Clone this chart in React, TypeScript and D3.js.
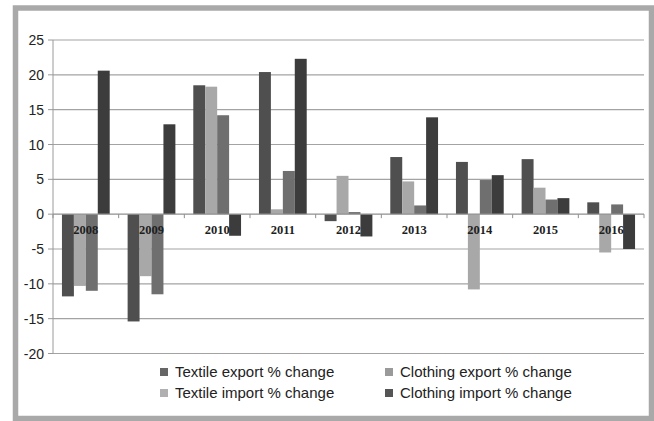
import React from "react";
import * as d3 from "d3";

const years = ["2008", "2009", "2010", "2011", "2012", "2013", "2014", "2015", "2016"];
const seriesNames = [
  "Textile export % change",
  "Textile import % change",
  "Clothing export % change",
  "Clothing import % change",
];
const textileExport = [-11.8, -15.4, 18.5, 20.4, -1.0, 8.2, 7.5, 7.9, 1.7];
const textileImport = [-10.3, -8.9, 18.3, 0.7, 5.5, 4.7, -10.8, 3.8, -5.5];
const clothingExport = [-11.0, -11.5, 14.2, 6.2, 0.3, 1.25, 4.9, 2.1, 1.4];
const clothingImport = [20.6, 12.9, -3.1, 22.3, -3.2, 13.9, 5.6, 2.3, -5.0];
const yTicks = [25, 20, 15, 10, 5, 0, -5, -10, -15, -20];

const seriesValues = [textileExport, textileImport, clothingExport, clothingImport];
const barColors = ["#4f4f4f", "#a8a8a8", "#6f6f6f", "#3c3c3c"];
const legendColors = ["#666666", "#b0b0b0", "#9a9a9a", "#555555"];

const W = 654;
const H = 421;
const plotLeft = 53;
const plotRight = 644;
const plotTop = 40;
const plotBottom = 353.5;

export default function App() {
  const x = d3.scaleBand<string>().domain(years).range([plotLeft, plotRight]).padding(0);
  const inner = d3
    .scaleBand<string>()
    .domain(seriesNames)
    .range([0, x.bandwidth()])
    .paddingInner(0)
    .paddingOuter(0.75);
  const y = d3.scaleLinear().domain([-20, 25]).range([plotBottom, plotTop]);
  const y0 = y(0);

  const legendItems = [
    { name: seriesNames[0], color: legendColors[0], lx: 160, ly: 372 },
    { name: seriesNames[2], color: legendColors[2], lx: 385, ly: 372 },
    { name: seriesNames[1], color: legendColors[1], lx: 160, ly: 393 },
    { name: seriesNames[3], color: legendColors[3], lx: 385, ly: 393 },
  ];

  return (
    <svg
      width={W}
      height={H}
      style={{ position: "absolute", left: 0, top: 0, background: "#fff" }}
    >
      {/* frame */}
      <rect x={15.5} y={8} width={636} height={410.5} fill="#fff" stroke="#a9a9a9" strokeWidth={5.5} />

      {/* gridlines and y ticks */}
      {yTicks.map((t) => (
        <g key={t}>
          {t !== 0 && (
            <line x1={plotLeft} x2={plotRight} y1={y(t)} y2={y(t)} stroke="#a3a3a3" strokeWidth={1.2} />
          )}
          <line x1={plotLeft - 5} x2={plotLeft} y1={y(t)} y2={y(t)} stroke="#9a9a9a" strokeWidth={1} />
          <text
            x={44}
            y={y(t)}
            dy="0.36em"
            textAnchor="end"
            fontFamily="'Liberation Sans', Arial, sans-serif"
            fontSize={14}
            fill="#222"
          >
            {t}
          </text>
        </g>
      ))}
      <line x1={plotLeft} x2={plotLeft} y1={plotTop} y2={plotBottom} stroke="#9a9a9a" strokeWidth={1} />

      {/* bars */}
      {years.map((yr, i) => (
        <g key={yr}>
          {seriesValues.map((vals, s) => {
            const v = vals[i];
            const bx = (x(yr) as number) + (inner(seriesNames[s]) as number);
            return (
              <rect
                key={s}
                x={bx}
                y={Math.min(y(v), y0)}
                width={inner.bandwidth()}
                height={Math.abs(y(v) - y0)}
                fill={barColors[s]}
              />
            );
          })}
        </g>
      ))}

      {/* zero axis with category ticks */}
      <line x1={plotLeft} x2={plotRight} y1={y0} y2={y0} stroke="#8f8f8f" strokeWidth={1.2} />
      {years.concat(["end"]).map((yr, i) => {
        const tx = plotLeft + i * x.step();
        return <line key={yr} x1={tx} x2={tx} y1={y0} y2={y0 + 4} stroke="#8f8f8f" strokeWidth={1} />;
      })}

      {/* category labels */}
      {years.map((yr) => (
        <text
          key={yr}
          x={(x(yr) as number) + x.bandwidth() / 2}
          y={234}
          textAnchor="middle"
          fontFamily="'Liberation Serif', 'DejaVu Serif', serif"
          fontWeight="bold"
          fontSize={12.5}
          fill="#1e1e1e"
        >
          {yr}
        </text>
      ))}

      {/* legend */}
      {legendItems.map((it) => (
        <g key={it.name}>
          <rect x={it.lx} y={it.ly - 4} width={8} height={8} fill={it.color} />
          <text
            x={it.lx + 15}
            y={it.ly}
            dy="0.36em"
            fontFamily="'Liberation Sans', Arial, sans-serif"
            fontSize={15}
            fill="#222"
          >
            {it.name}
          </text>
        </g>
      ))}
    </svg>
  );
}
